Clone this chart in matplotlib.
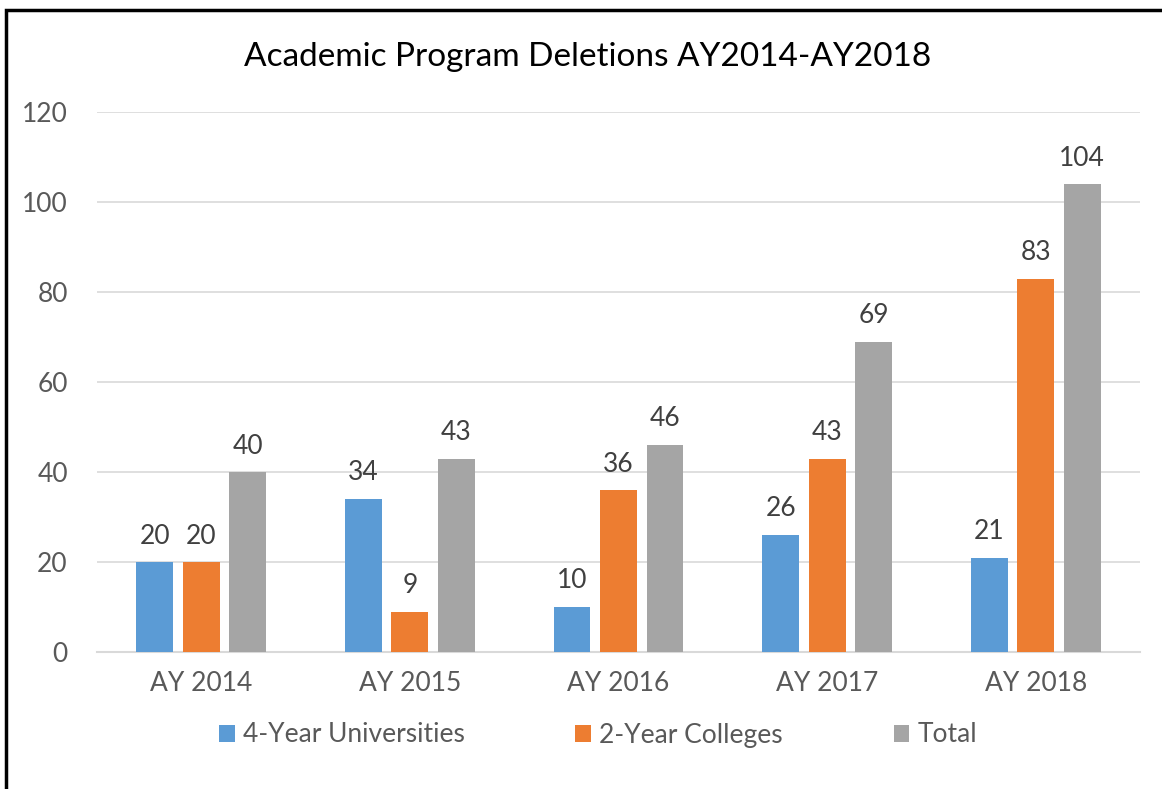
import numpy as np
import matplotlib
matplotlib.use("Agg")
import matplotlib.pyplot as plt
from matplotlib.patches import Rectangle

# --- data ---
years = ["AY 2014", "AY 2015", "AY 2016", "AY 2017", "AY 2018"]
univ = [20, 34, 10, 26, 21]
colleges = [20, 9, 36, 43, 83]
total = [40, 43, 46, 69, 104]
series_names = ["4-Year Universities", "2-Year Colleges", "Total"]
colors = ["#5B9BD5", "#ED7D31", "#A5A5A5"]

plt.rcParams['font.family'] = ['Lato', 'DejaVu Sans']
txt = "#595959"

fig = plt.figure(figsize=(11.62, 7.89), dpi=100)
ax = fig.add_axes([97/1162, 137/789, (1140-97)/1162, (652-112)/789])

x = np.arange(len(years))
w = 0.177
step = 0.223
for i, (vals, name, c) in enumerate(zip([univ, colleges, total], series_names, colors)):
    pos = x + (i - 1) * step
    bars = ax.bar(pos, vals, width=w, color=c, label=name, zorder=3)
    for b, v in zip(bars, vals):
        ax.text(b.get_x() + b.get_width()/2, v + 3, str(v), ha='center', va='bottom',
                fontsize=19, color="#404040")

ax.set_xlim(-0.5, 4.5)
ax.set_ylim(0, 120)
ax.set_yticks(range(0, 121, 20))
ax.set_xticks(x)
ax.set_xticklabels(years)
ax.tick_params(axis='both', length=0, labelsize=19, colors=txt)
ax.tick_params(axis='y', pad=21)
ax.tick_params(axis='x', pad=14)
ax.grid(axis='y', color="#D9D9D9", linewidth=1.2, zorder=0)
for s in ['top', 'right', 'left']:
    ax.spines[s].set_visible(False)
ax.spines['bottom'].set_color("#D9D9D9")
ax.spines['bottom'].set_linewidth(1.5)

fig.text(588/1162, 1 - 57/789, "Academic Program Deletions AY2014-AY2018",
         ha='center', va='center', fontsize=24, color="black")

fig.legend(loc='center', bbox_to_anchor=(598/1162, 1 - 735/789), ncol=3, frameon=False,
           fontsize=19, labelcolor=txt, handlelength=0.6, handleheight=0.6,
           handletextpad=0.3, columnspacing=4.2)

# chart border (cropped at right/bottom)
fig.patches.append(Rectangle((6/1162, -0.1), 1.2, 1 - 10/789 + 0.1, transform=fig.transFigure,
                             fill=False, edgecolor='black', linewidth=2.5))

fig.savefig("out.png", dpi=100)
